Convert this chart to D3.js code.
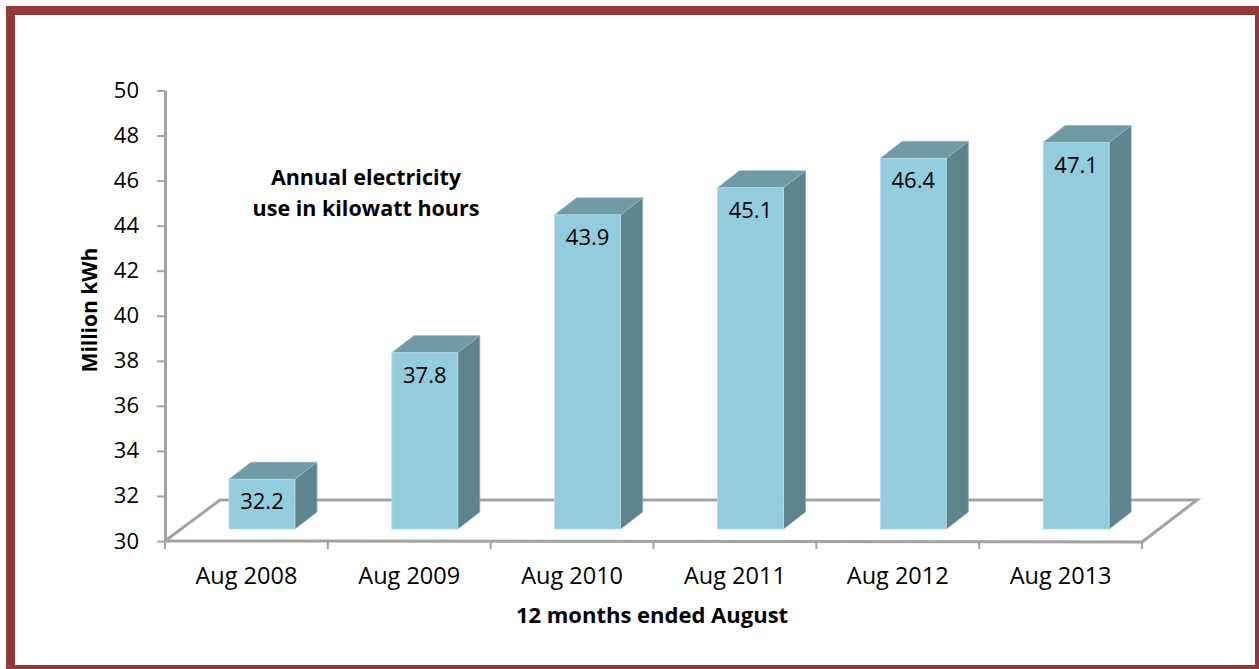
<!DOCTYPE html>
<html>
<head>
<meta charset="utf-8">
<script src="https://cdn.jsdelivr.net/npm/d3@7"></script>
<style>
  body { margin: 0; background: #fff; }
  svg text { font-family: "Open Sans", sans-serif; fill: #000; }
</style>
</head>
<body>
<div id="chart-area"></div>
<script>
var months = ["Aug 2008", "Aug 2009", "Aug 2010", "Aug 2011", "Aug 2012", "Aug 2013"];
var usage = [32.2, 37.8, 43.9, 45.1, 46.4, 47.1];
var yTicks = [30, 32, 34, 36, 38, 40, 42, 44, 46, 48, 50];

var data = months.map(function(m, i) { return {month: m, value: usage[i]}; });

var W = 1259, H = 669;
var svg = d3.select("#chart-area").append("svg")
    .attr("width", W)
    .attr("height", H);

// frame
svg.append("rect")
    .attr("x", 10.5).attr("y", 10.5)
    .attr("width", 1249).attr("height", 659)
    .attr("fill", "none")
    .attr("stroke", "#973838")
    .attr("stroke-width", 9);

var x = d3.scaleBand()
    .domain(months)
    .range([165, 1142]);

var y = d3.scaleLinear()
    .domain([30, 50])
    .range([541, 90.5]);

// bars sit back in depth, so their scale is shifted up from the axis
var yBar = d3.scaleLinear()
    .domain([30, 50])
    .range([529, 77]);

var floorDx = 55, floorDy = -41;
var barDx = 22, barDy = -17;
var gray = "#a3a3a3";

// floor
var x0 = x.range()[0], x1 = x.range()[1], fy = y(30);
svg.append("path")
    .attr("d", "M" + x0 + "," + fy + "L" + (x0 + floorDx) + "," + (fy + floorDy) +
               "L" + (x1 + floorDx) + "," + (fy + floorDy) + "L" + x1 + "," + (fy + 1))
    .attr("fill", "none")
    .attr("stroke", gray)
    .attr("stroke-width", 3);

svg.append("line")
    .attr("x1", x0).attr("y1", fy)
    .attr("x2", x1).attr("y2", fy + 1)
    .attr("stroke", gray)
    .attr("stroke-width", 3);

// category boundary ticks
var bounds = months.map(function(m) { return x(m); }).concat([x1]);
svg.selectAll(".xtick")
    .data(bounds)
    .enter()
    .append("line")
    .attr("class", "xtick")
    .attr("x1", function(d) { return d; })
    .attr("x2", function(d) { return d; })
    .attr("y1", fy)
    .attr("y2", fy + 8)
    .attr("stroke", gray)
    .attr("stroke-width", 2);

// y axis
var yAxisCall = d3.axisLeft(y)
    .tickValues(yTicks)
    .tickSize(8)
    .tickSizeOuter(0)
    .tickPadding(18);
var yAxis = svg.append("g")
    .attr("class", "y axis")
    .attr("transform", "translate(165,0)")
    .call(yAxisCall);
yAxis.select(".domain").attr("stroke", gray).attr("stroke-width", 3);
yAxis.selectAll(".tick line").attr("stroke", gray).attr("stroke-width", 2);
yAxis.selectAll(".tick text")
    .attr("font-size", "22px")
    .attr("font-family", "Open Sans, sans-serif");

// category labels
svg.selectAll(".xlabel")
    .data(months)
    .enter()
    .append("text")
    .attr("class", "xlabel")
    .attr("x", function(d) { return x(d) + x.bandwidth() / 2; })
    .attr("y", 584)
    .attr("text-anchor", "middle")
    .attr("font-size", "23.5px")
    .text(function(d) { return d; });

// 3D bars
var bw = x.bandwidth() * 0.405;
var off = x.bandwidth() * 0.393;
var bars = svg.selectAll(".bar")
    .data(data)
    .enter()
    .append("g")
    .attr("class", "bar");

bars.append("path") // side
    .attr("d", function(d) {
        var l = x(d.month) + off + bw, t = yBar(d.value), b = yBar(30);
        return "M" + l + "," + b + "L" + l + "," + t + "L" + (l + barDx) + "," + (t + barDy) +
               "L" + (l + barDx) + "," + (b + barDy) + "Z";
    })
    .attr("fill", "#5e848e")
    .attr("stroke", "#7fa6b0")
    .attr("stroke-width", 0.8);

bars.append("path") // top
    .attr("d", function(d) {
        var l = x(d.month) + off, t = yBar(d.value);
        return "M" + l + "," + t + "L" + (l + barDx) + "," + (t + barDy) +
               "L" + (l + bw + barDx) + "," + (t + barDy) + "L" + (l + bw) + "," + t + "Z";
    })
    .attr("fill", "#6f9ba7")
    .attr("stroke", "#8fb5bf")
    .attr("stroke-width", 0.8);

bars.append("rect") // front
    .attr("x", function(d) { return x(d.month) + off; })
    .attr("y", function(d) { return yBar(d.value); })
    .attr("width", bw)
    .attr("height", function(d) { return yBar(30) - yBar(d.value); })
    .attr("fill", "#93cddd")
    .attr("stroke", "#b5dde8")
    .attr("stroke-width", 0.8);

bars.append("text")
    .attr("x", function(d) { return x(d.month) + off + bw / 2; })
    .attr("y", function(d) { return yBar(d.value) + 30; })
    .attr("text-anchor", "middle")
    .attr("font-size", "22px")
    .text(function(d) { return d.value.toFixed(1); });

// titles
svg.append("text")
    .attr("x", 652)
    .attr("y", 623)
    .attr("text-anchor", "middle")
    .attr("font-size", "22px")
    .attr("font-weight", "bold")
    .text("12 months ended August");

svg.append("text")
    .attr("transform", "translate(97,310) rotate(-90)")
    .attr("text-anchor", "middle")
    .attr("font-size", "21px")
    .attr("font-weight", "bold")
    .text("Million kWh");

var note = svg.append("text")
    .attr("text-anchor", "middle")
    .attr("font-size", "21.5px")
    .attr("font-weight", "bold");
note.append("tspan").attr("x", 366).attr("y", 185).text("Annual electricity");
note.append("tspan").attr("x", 366).attr("y", 216).text("use in kilowatt hours");
</script>
</body>
</html>
